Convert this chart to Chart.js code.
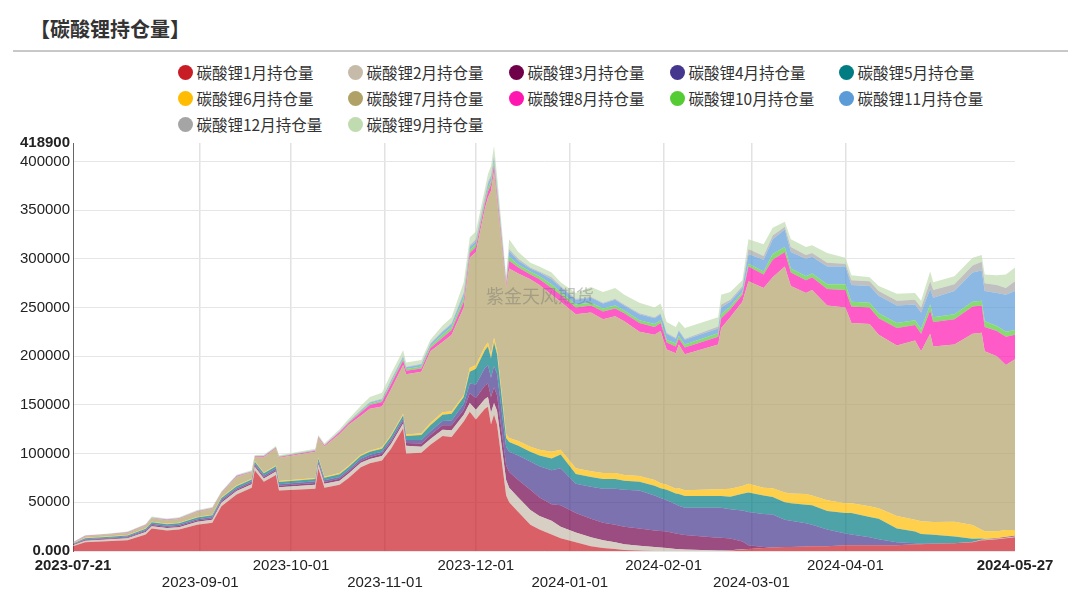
<!DOCTYPE html>
<html>
<head>
<meta charset="utf-8">
<script src="https://cdn.jsdelivr.net/npm/chart.js@4.4.1/dist/chart.umd.min.js"></script>
<style>
  body { margin: 0; background: #fff; }
  #wrap { position: relative; width: 1080px; height: 604px; overflow: hidden; }
  #title { position: absolute; left: 30px; top: 15px; font: 700 20px "Noto Sans CJK SC", sans-serif; color: #333; line-height: 28px; }
  #rule { position: absolute; left: 13px; top: 50px; width: 1055px; border-top: 2px solid #c8c8c8; }
  .lg { position: absolute; height: 20px; display: flex; align-items: center; font: 15.5px "Noto Sans CJK SC", sans-serif; color: #333; line-height: 20px; white-space: nowrap; }
  .lg i { display: inline-block; width: 15px; height: 15px; border-radius: 50%; margin-right: 4px; }
  canvas { position: absolute; left: 0; top: 0; }
</style>
</head>
<body>
<div id="wrap">
  <div id="title">【碳酸锂持仓量】</div>
  <div id="rule"></div>
  <div id="legend"></div>
  <canvas id="oiChart" width="1080" height="604"></canvas>
</div>
<script>
// trading dates
const dates = [
  '2023-07-21','2023-07-25','2023-08-01','2023-08-08','2023-08-14','2023-08-16','2023-08-21','2023-08-25','2023-08-31','2023-09-05',
  '2023-09-08','2023-09-13','2023-09-18','2023-09-19','2023-09-22','2023-09-26','2023-09-27','2023-10-09','2023-10-10','2023-10-12',
  '2023-10-17','2023-10-20','2023-10-24','2023-10-27','2023-10-31','2023-11-03','2023-11-07','2023-11-08','2023-11-13','2023-11-16',
  '2023-11-20','2023-11-23','2023-11-27','2023-11-29','2023-12-01','2023-12-04','2023-12-05','2023-12-06','2023-12-07','2023-12-08',
  '2023-12-11','2023-12-12','2023-12-15','2023-12-19','2023-12-22','2023-12-26','2023-12-29','2024-01-03','2024-01-08','2024-01-12',
  '2024-01-16','2024-01-19','2024-01-24','2024-01-29','2024-01-31','2024-02-02','2024-02-05','2024-02-06','2024-02-08','2024-02-19',
  '2024-02-20','2024-02-23','2024-02-27','2024-02-29','2024-03-05','2024-03-08','2024-03-12','2024-03-14','2024-03-19','2024-03-21',
  '2024-03-26','2024-04-01','2024-04-03','2024-04-09','2024-04-12','2024-04-18','2024-04-24','2024-04-26','2024-04-29','2024-04-30',
  '2024-05-07','2024-05-13','2024-05-16','2024-05-17','2024-05-21','2024-05-24','2024-05-27'
];

// open interest by contract month, in lots
const oi1 = [5000,9000,10000,11000,17000,23000,21000,22000,27000,29000,46000,58000,65000,83000,71000,78000,62000,64000,85000,65000,68000,75000,86000,90000,93000,105000,126000,100000,101000,109000,118000,117000,133000,143000,135000,146000,148000,130000,140000,130000,57000,50000,40000,27000,22000,17000,13000,9000,5000,3000,2000,1000,500,0,0,0,0,0,0,0,0,500,1500,2000,3000,3500,4000,4000,4500,5000,5000,6000,6000,6000,6000,6000,7000,7000,7500,7500,8000,9000,11000,11000,12000,13000,14000];
const oi2 = [1000,1500,1800,2000,2500,2500,2500,2500,3000,3000,3500,3500,3500,3500,3500,3500,3500,4000,4000,4000,4200,4500,4500,4500,4600,4800,5000,8000,6000,6000,6500,7000,7000,9000,10000,10000,10000,12000,12000,14000,16000,15000,15000,15000,14000,14000,12000,10000,9000,8000,7000,6000,5000,4000,3500,3000,2000,2000,1500,500,500,300,200,0,0,0,0,0,0,0,0,0,0,0,0,0,0,0,0,0,0,300,500,500,500,700,800];
const oi3 = [500,800,800,900,1000,1200,1200,1200,1300,1400,1500,1500,1500,1500,1500,1500,1500,1700,1700,1800,1900,2000,2000,2100,2200,2300,2500,3000,3500,4000,4500,5000,5000,10000,12000,14000,14000,16000,16000,16000,15000,16000,18000,21000,19000,17000,22000,20000,19000,18000,18000,18000,17500,17000,17000,17000,16000,15500,15000,13000,13000,12000,8000,4000,1000,0,0,0,0,0,0,0,0,0,0,0,0,0,0,0,0,300,300,300,500,600,800];
const oi4 = [500,800,800,900,1000,1200,1200,1200,1300,1400,1500,1500,1500,1500,1500,1600,1600,1800,1800,1900,2000,2000,2100,2200,2200,2300,2500,3000,3500,4000,4500,5000,6000,10000,14000,18000,19000,20000,22000,22000,19000,21000,25000,29000,32000,35000,38000,30000,33000,35000,37000,38000,39000,36000,34000,32000,30000,29000,28000,31000,31000,30000,32000,34000,34000,34000,28000,27000,24000,22000,17000,12000,11000,8000,6000,3000,1000,500,500,300,0,0,0,0,0,0,0];
const oi5 = [500,1000,1000,1100,1300,1500,1500,1500,1700,1800,2000,2000,2000,2200,2200,2300,2300,2500,2500,2600,2800,2800,3000,3000,3100,3300,3500,4000,5000,6000,6500,7000,7000,12000,16000,18000,19000,20000,24000,20000,9000,10000,10000,10000,11000,12000,14000,10000,10000,10000,10000,9000,9000,10000,10000,11000,11000,12000,12000,12000,12000,13000,17000,20000,19000,18000,18000,18000,19000,20000,19000,21000,22000,21000,21000,14000,12000,10000,9000,9000,7000,3000,1000,500,200,200,0];
const oi6 = [300,400,400,500,500,600,600,600,700,700,800,800,800,800,800,900,900,1000,1000,1000,1100,1200,1200,1200,1300,1400,1500,1500,2000,2500,2500,2500,2000,4000,4000,4000,4000,4000,5000,4000,4000,4000,5000,5000,6000,7000,5000,6000,6000,6000,6000,6000,6000,6000,5000,5000,5000,6000,6000,7000,7000,8000,8000,9000,8000,9000,10000,10000,11000,10000,11000,10000,10000,11000,11000,13000,12000,13000,13000,13000,15000,14000,9000,8000,7000,7000,6000];
const oi7 = [700,1500,1800,2200,3000,3500,3500,3800,5000,6000,4000,9000,6500,4000,16000,17500,24000,27000,20000,31000,40000,42000,40000,43000,42000,47000,50000,62000,63000,73500,72000,78500,90000,113000,116000,142000,149000,168000,171000,154000,150000,174000,172000,172000,169000,161000,152000,158000,163000,158000,161000,158000,148000,149000,156500,139000,139000,147500,139500,148500,165500,176200,189300,208000,205000,216500,232000,213000,206500,211000,200000,201000,185000,187000,178000,175000,184000,174500,193000,180200,182000,196400,202200,184700,179800,169500,175400];
const oi8 = [200,300,300,400,400,500,500,500,600,600,600,600,600,600,700,800,800,1000,1000,1000,1800,2000,3500,4000,4500,5000,4500,3500,3500,3500,4500,5000,6000,5000,5000,5000,6000,6000,6000,6000,3000,8000,6000,5000,6000,7000,7000,7000,7000,8000,8000,8000,9000,8000,8000,7000,7000,6000,7000,8000,10000,8000,7000,15000,14000,18000,15000,14000,13000,13000,17000,18000,17000,17000,17000,18000,16000,18000,24000,25000,26000,28000,28000,25000,26000,29000,25000];
const oi10 = [100,200,200,200,200,200,200,200,200,200,200,200,200,200,200,300,300,300,300,300,500,600,1000,1200,1500,2000,2000,1800,2000,2000,3000,3000,4000,3000,3000,3000,4000,4000,4000,4000,2000,4000,3000,3000,3000,4000,3000,3000,3000,3000,3000,3000,3000,3000,3000,3000,3000,3000,3000,3500,4000,3000,3000,3000,3000,6000,5000,4000,4000,4000,5000,6000,5000,5000,5000,5000,5000,5000,6000,5000,5000,5000,5000,6000,5000,5000,5000];
const oi11 = [100,200,200,200,200,300,300,300,300,300,300,300,300,300,300,300,300,300,300,300,500,600,1000,1200,1500,2000,2000,1800,2000,2000,3000,3000,4000,3000,3000,3000,4000,4000,4000,4000,2000,6000,4000,3000,4000,5000,5000,5000,5000,5000,6000,5000,6000,6000,6000,6000,5000,5000,5000,5000,7000,5000,4000,10000,12000,15000,18000,17000,18000,17000,18000,18000,17000,17000,18000,18000,16000,17000,16000,20000,24000,30000,31000,31000,34000,38000,40000];
const oi12 = [100,100,100,100,100,100,100,100,100,100,100,100,100,100,100,100,100,200,200,200,200,300,500,600,700,800,800,700,800,800,1000,1000,2000,2000,2000,2000,2000,2000,2000,2000,1000,2000,2000,1000,1000,2000,1000,1000,1000,1000,1000,1000,1000,1000,1000,1000,1000,1000,1000,2000,3000,2000,2000,5000,4000,4000,3000,5000,4000,4000,4000,3000,5000,5000,5000,5000,5000,5000,8000,8000,7000,7000,9000,8000,8000,7000,10000];
const oi9 = [300,400,400,500,600,700,700,700,800,800,800,800,800,800,900,1000,1000,1200,1200,1200,2000,2500,4000,5000,5800,6200,5700,4200,3700,3700,5500,6000,10000,8000,8000,7000,8000,9000,10000,10000,4000,10000,7000,5000,5000,5000,4000,6000,10000,11000,11000,10000,11000,10000,10000,11000,11000,9000,11000,9500,10000,8000,6000,10000,12000,8000,5000,8000,8000,8000,10000,6000,5000,4000,5000,7000,7000,7000,10000,8000,8000,8000,7000,9000,10000,14000,14000];

const xTickDates = ['2023-07-21','2023-09-01','2023-10-01','2023-11-01','2023-12-01','2024-01-01','2024-02-01','2024-03-01','2024-04-01','2024-05-27'];
const yTicks = [0,50000,100000,150000,200000,250000,300000,350000,400000,418900];

const series = [
  { label: '碳酸锂1月持仓量', data: oi1, color: '#c91d26' },
  { label: '碳酸锂2月持仓量', data: oi2, color: '#c6baa9' },
  { label: '碳酸锂3月持仓量', data: oi3, color: '#71004a' },
  { label: '碳酸锂4月持仓量', data: oi4, color: '#45368e' },
  { label: '碳酸锂5月持仓量', data: oi5, color: '#027c83' },
  { label: '碳酸锂6月持仓量', data: oi6, color: '#ffbc00' },
  { label: '碳酸锂7月持仓量', data: oi7, color: '#b0a166' },
  { label: '碳酸锂8月持仓量', data: oi8, color: '#ff16b0' },
  { label: '碳酸锂10月持仓量', data: oi10, color: '#55cc33' },
  { label: '碳酸锂11月持仓量', data: oi11, color: '#5b9bd7' },
  { label: '碳酸锂12月持仓量', data: oi12, color: '#a5a5a5' },
  { label: '碳酸锂9月持仓量', data: oi9, color: '#c0dbb0' }
];

const day0 = Date.UTC(2023, 6, 21);
function toDay(s) {
  const p = s.split('-');
  return (Date.UTC(+p[0], +p[1] - 1, +p[2]) - day0) / 86400000;
}
function withAlpha(hex, a) {
  const n = parseInt(hex.slice(1), 16);
  return 'rgba(' + (n >> 16) + ',' + ((n >> 8) & 255) + ',' + (n & 255) + ',' + a + ')';
}

// legend, 5 columns
const legendCols = [177.5, 347.5, 508.5, 669.5, 838.5];
const legendRows = [62, 88, 114];
const legendBox = document.getElementById('legend');
series.forEach((s, i) => {
  const el = document.createElement('div');
  el.className = 'lg';
  el.style.left = legendCols[i % 5] + 'px';
  el.style.top = legendRows[Math.floor(i / 5)] + 'px';
  el.innerHTML = '<i style="background:' + s.color + '"></i>' + s.label;
  legendBox.appendChild(el);
});

const watermark = {
  id: 'watermark',
  afterDatasetsDraw(chart) {
    const c = chart.ctx;
    c.save();
    c.font = '18px "Noto Sans CJK SC"';
    c.fillStyle = 'rgba(110,110,110,0.4)';
    c.textAlign = 'center';
    c.textBaseline = 'middle';
    c.fillText('紫金天风期货', 540, 296);
    c.restore();
  }
};

const lastX = xTickDates.length - 1;
const ctxOi = document.getElementById('oiChart').getContext('2d');
const oiChart = new Chart(ctxOi, {
  type: 'line',
  data: {
    datasets: series.map((s, i) => ({
      label: s.label,
      data: s.data.map((v, j) => ({ x: toDay(dates[j]), y: v })),
      backgroundColor: withAlpha(s.color, 0.7),
      borderColor: 'rgba(0,0,0,0)',
      borderWidth: 0,
      pointRadius: 0,
      tension: 0,
      fill: i === 0 ? 'origin' : '-1'
    }))
  },
  options: {
    responsive: false,
    animation: false,
    layout: { padding: { top: 143, right: 65, left: 0, bottom: 0 } },
    plugins: { legend: { display: false }, tooltip: { enabled: false } },
    scales: {
      x: {
        type: 'linear',
        min: 0,
        max: toDay('2024-05-27'),
        afterBuildTicks: axis => { axis.ticks = xTickDates.map(d => ({ value: toDay(d) })); },
        afterFit: axis => { axis.height = 53; },
        grid: {
          drawTicks: false,
          lineWidth: 1.5,
          color: ctx => (ctx.index === 0 || ctx.index === lastX) ? 'rgba(0,0,0,0)' : '#e2e2e2'
        },
        border: { display: false },
        ticks: {
          autoSkip: false,
          maxRotation: 0,
          padding: 7,
          color: '#222',
          font: ctx => ({
            family: '"Liberation Sans", Arial, sans-serif',
            size: 15,
            lineHeight: 1.1,
            weight: (ctx.index === 0 || ctx.index === lastX) ? 'bold' : 'normal'
          }),
          callback: (v, i) => (i % 2 === 1 && i !== lastX) ? ['', xTickDates[i]] : xTickDates[i]
        }
      },
      y: {
        stacked: true,
        min: 0,
        max: 418900,
        afterBuildTicks: axis => { axis.ticks = yTicks.map(v => ({ value: v })); },
        afterFit: axis => { axis.width = 73; },
        grid: {
          drawTicks: false,
          lineWidth: 1,
          color: ctx => (ctx.tick && ctx.tick.value === 418900) ? 'rgba(0,0,0,0)' : '#e6e6e6'
        },
        border: { display: true, color: '#666', width: 1 },
        ticks: {
          padding: 3,
          color: '#222',
          font: ctx => ({
            family: '"Liberation Sans", Arial, sans-serif',
            size: 15,
            weight: (ctx.tick && (ctx.tick.value === 0 || ctx.tick.value === 418900)) ? 'bold' : 'normal'
          }),
          callback: v => v === 0 ? '0.000' : String(v)
        }
      }
    }
  },
  plugins: [watermark]
});
</script>
</body>
</html>
